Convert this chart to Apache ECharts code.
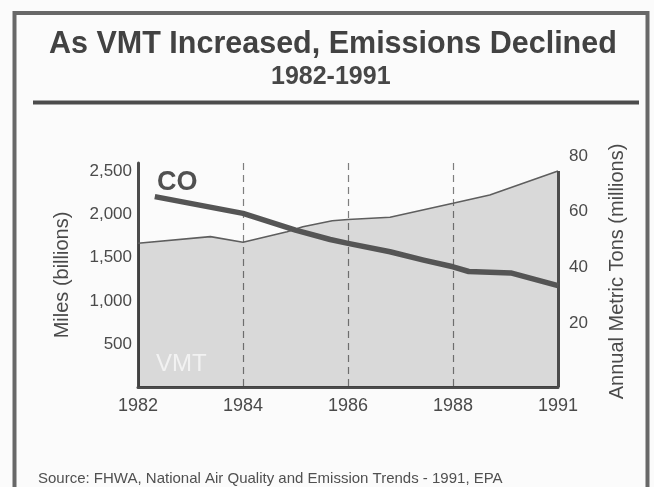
<!DOCTYPE html>
<html>
<head>
<meta charset="utf-8">
<title>As VMT Increased, Emissions Declined</title>
<script src="https://cdn.jsdelivr.net/npm/echarts@6/dist/echarts.min.js"></script>
<style>
  html, body { margin: 0; padding: 0; background: #fbfbfb; }
  #chart { width: 654px; height: 487px; }
</style>
</head>
<body>
<div id="chart"></div>
<script>
// tick labels sit at equal spacing on the x axis (0..4)
const xTicks = ['1982', '1984', '1986', '1988', '1991']

// VMT, billions of miles (left axis); positions are in tick-interval units
const vmtPos = [0, 0.69, 1.0, 1.42, 1.57, 1.85, 2.0, 2.4, 3.0, 3.35, 4.0]
const vmtVal = [1668, 1745, 1680, 1803, 1861, 1930, 1944, 1970, 2132, 2229, 2507]

// CO, millions of metric tons (right axis)
const coPos = [0.16, 1.0, 1.5, 1.83, 2.0, 2.4, 2.72, 3.0, 3.15, 3.55, 4.0]
const coVal = [65.4, 59.4, 53.4, 50.0, 48.6, 45.6, 42.6, 40.2, 38.5, 38.0, 33.4]

const leftTicks = [500, 1000, 1500, 2000, 2500]
const rightTicks = [20, 40, 60, 80]

const font = '"Liberation Sans", Arial, sans-serif'
const ink = '#4c4c4c'
const labelInk = '#4a4a4a'

const chart = echarts.init(document.getElementById('chart'))

const vmtData = vmtPos.map((p, i) => [p, vmtVal[i]])
const coData = coPos.map((p, i) => [p, coVal[i]])
const lastX = vmtPos[vmtPos.length - 1]
const lastV = vmtVal[vmtVal.length - 1]

chart.setOption({
  backgroundColor: '#fbfbfb',
  animation: false,
  textStyle: { fontFamily: font },
  title: [
    {
      text: 'As VMT Increased, Emissions Declined',
      left: 49,
      top: 30,
      padding: 0,
      textStyle: { fontSize: 30.5, fontWeight: 'bold', color: '#424242', lineHeight: 30, fontFamily: font }
    },
    {
      text: '1982-1991',
      left: 271,
      top: 65,
      padding: 0,
      textStyle: { fontSize: 25, fontWeight: 'bold', color: '#474747', lineHeight: 25, fontFamily: font }
    },
    {
      text: 'Source: FHWA, National Air Quality and Emission Trends - 1991, EPA',
      left: 33,
      top: 466,
      textStyle: { fontSize: 15, fontWeight: 'normal', color: '#505050', fontFamily: font }
    }
  ],
  graphic: [
    {
      type: 'rect',
      shape: { x: 14.5, y: 13, width: 633, height: 520 },
      style: { fill: 'none', stroke: '#686868', lineWidth: 4 },
      silent: true
    },
    {
      type: 'line',
      shape: { x1: 33, y1: 102.5, x2: 639, y2: 102.5 },
      style: { stroke: '#4c4c4c', lineWidth: 4 },
      silent: true
    },
    {
      type: 'text',
      left: 157,
      top: 169,
      style: { text: 'CO', fontSize: 27, fontWeight: 'bold', fill: '#505050', fontFamily: font },
      z: 10
    },
    {
      type: 'text',
      left: 156,
      top: 352,
      style: { text: 'VMT', fontSize: 24, fill: '#f2f2f2', fontFamily: font },
      z: 10
    }
  ],
  grid: [
    { left: 138, right: 96, top: 163, bottom: 100 },
    { left: 138, right: 96, top: 156, bottom: 100 }
  ],
  xAxis: [
    {
      type: 'value',
      gridIndex: 0,
      min: 0,
      max: 4,
      interval: 1,
      axisLine: { show: true, lineStyle: { color: ink, width: 3 } },
      axisTick: { show: false },
      axisLabel: {
        color: labelInk,
        fontSize: 18,
        margin: 10,
        formatter: v => xTicks[Math.round(v)]
      },
      splitLine: {
        show: true,
        showMinLine: false,
        showMaxLine: false,
        lineStyle: { color: '#7e7e7e', width: 1.2, type: [7, 5] }
      }
    },
    {
      type: 'value',
      gridIndex: 1,
      min: 0,
      max: 4,
      show: false
    }
  ],
  yAxis: [
    {
      type: 'value',
      gridIndex: 0,
      min: 0,
      max: 2600,
      name: 'Miles (billions)',
      nameLocation: 'middle',
      nameGap: 66,
      nameRotate: 90,
      nameTextStyle: { fontSize: 20, color: labelInk },
      axisLine: { show: true, lineStyle: { color: ink, width: 3 } },
      axisTick: { show: false },
      splitLine: { show: false },
      axisLabel: {
        customValues: leftTicks,
        color: labelInk,
        fontSize: 17,
        margin: 6,
        formatter: v => v.toLocaleString('en-US')
      }
    },
    {
      type: 'value',
      gridIndex: 1,
      position: 'right',
      min: -3,
      max: 80,
      name: 'Annual Metric Tons (millions)',
      nameLocation: 'middle',
      nameGap: 49,
      nameRotate: 90,
      nameTextStyle: { fontSize: 20, color: labelInk },
      axisLine: { show: false },
      axisTick: { show: false },
      splitLine: { show: false },
      axisLabel: {
        customValues: rightTicks,
        color: labelInk,
        fontSize: 17,
        margin: 11
      }
    }
  ],
  series: [
    {
      name: 'VMT',
      type: 'line',
      xAxisIndex: 0,
      yAxisIndex: 0,
      data: vmtData,
      symbol: 'none',
      lineStyle: { color: '#5e5e5e', width: 1.6 },
      areaStyle: { color: 'rgba(0,0,0,0.19)' },
      markLine: {
        silent: true,
        symbol: 'none',
        label: { show: false },
        lineStyle: { color: ink, width: 3, type: 'solid' },
        data: [[{ coord: [lastX, 0] }, { coord: [lastX, lastV] }]]
      }
    },
    {
      name: 'CO',
      type: 'line',
      xAxisIndex: 1,
      yAxisIndex: 1,
      data: coData,
      symbol: 'none',
      lineStyle: { color: '#555555', width: 5.5, cap: 'butt', join: 'round' },
      z: 5
    }
  ]
})

window.addEventListener('resize', () => chart.resize())
</script>
</body>
</html>
